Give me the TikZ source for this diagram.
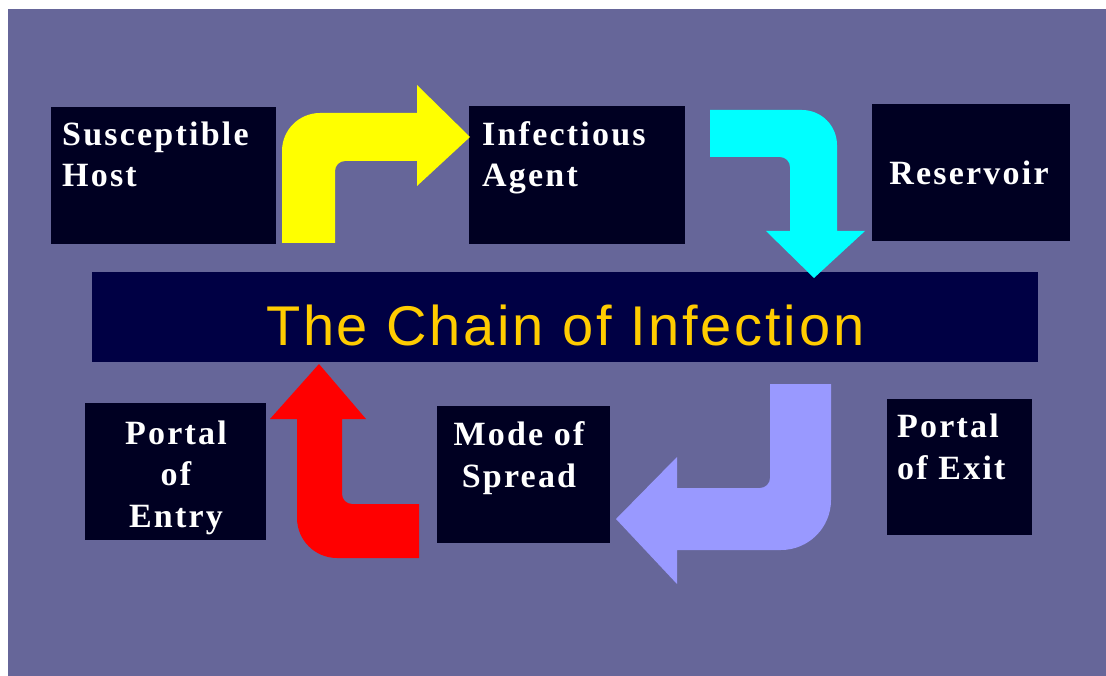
\documentclass[tikz,border=0pt]{standalone}
\usepackage{fontspec}
\usepackage{tikz}
\usetikzlibrary{
	positioning
}
\newfontfamily\boxfont[LetterSpace=6.5]{Liberation Serif}
\newfontfamily\titlefont[LetterSpace=5]{Liberation Sans}
\definecolor{slide}{RGB}{102,102,153}
\definecolor{boxnavy}{RGB}{0,0,34}
\definecolor{barnavy}{RGB}{0,0,68}
\definecolor{gold}{RGB}{255,204,0}
\definecolor{lilac}{RGB}{153,153,255}
\definecolor{sun}{RGB}{255,255,0}
\definecolor{aqua}{RGB}{0,255,255}
\definecolor{fire}{RGB}{255,0,0}

\begin{document}
\begin{tikzpicture}[
			x=1pt,y=-1pt,
			block/.style={
				fill=boxnavy,
				inner sep=0pt,
				anchor=north west
			},
			caption/.style={
				text=white,
				inner sep=0pt,
				font=\boxfont\bfseries\fontsize{34}{41.5}\selectfont
			},
			title/.style={
				fill=barnavy,
				text=gold,
				inner sep=0pt,
				anchor=north west,
				minimum width=946pt,
				text height=73pt,
				text depth=17pt,
				font=\titlefont\fontsize{56}{60}\selectfont
			}
			]
			
			\useasboundingbox (0,0) rectangle (1106,676);
			\fill[slide] (8,9) rectangle (1106,676);
			
			% boxes
			\node[block,minimum width=225pt,minimum height=137pt] (host) at (51,107) {};
			\node[block,minimum width=216pt,minimum height=138pt] (agent) at (469,106) {};
			\node[block,minimum width=198pt,minimum height=137pt] (reservoir) at (872,104) {};
			\node[block,minimum width=181pt,minimum height=137pt] (entry) at (85,403) {};
			\node[block,minimum width=173pt,minimum height=137pt] (spread) at (437,406) {};
			\node[block,minimum width=145pt,minimum height=136pt] (exit) at (887,399) {};
			
			\node[title] (chain) at (92,272) {The Chain of Infection};
			
			% labels (base = last line)
			\node[caption,align=left,anchor=base west] (hosttxt) at (62,187) {Susceptible\\Host};
			\node[caption,align=left,anchor=base west] (agenttxt) at (482,187) {Infectious\\Agent};
			\node[caption,anchor=base] (reservoirtxt) at (969,185) {Reservoir};
			\node[caption,align=center,anchor=base] (entrytxt) at (176,527) {Portal\\of\\Entry};
			\node[caption,align=center,anchor=base] (spreadtxt) at (519,487) {Mode of\\Spread};
			\node[caption,align=left,anchor=base west] (exittxt) at (897,479) {Portal\\of Exit};
			
			% bent arrows
			\fill[sun] (282,243) [rounded corners=38] -- (282,113) [sharp corners] -- (417,113)
				-- (417,85) -- (470,137) -- (417,186) -- (417,161) [rounded corners=10] -- (335,161)
				[sharp corners] -- (335,243) -- cycle;
			\fill[aqua] (710,110) [rounded corners=35] -- (837,110) [sharp corners] -- (837,231)
				-- (865,231) -- (814,278) -- (766,231) -- (790,231) [rounded corners=10] -- (790,157)
				[sharp corners] -- (710,157) -- cycle;
			\fill[lilac] (831,384) [rounded corners=50] -- (831,550) [sharp corners] -- (677,550)
				-- (677,584) -- (616,519) -- (677,457) -- (677,488) [rounded corners=10] -- (770,488)
				[sharp corners] -- (770,384) -- cycle;
			\fill[fire] (419,558) [rounded corners=40] -- (297,558) [sharp corners] -- (297,419)
				-- (270,419) -- (319,364) -- (366,419) -- (342,419) [rounded corners=10] -- (342,504)
				[sharp corners] -- (419,504) -- cycle;
			
		\end{tikzpicture}
\end{document}
